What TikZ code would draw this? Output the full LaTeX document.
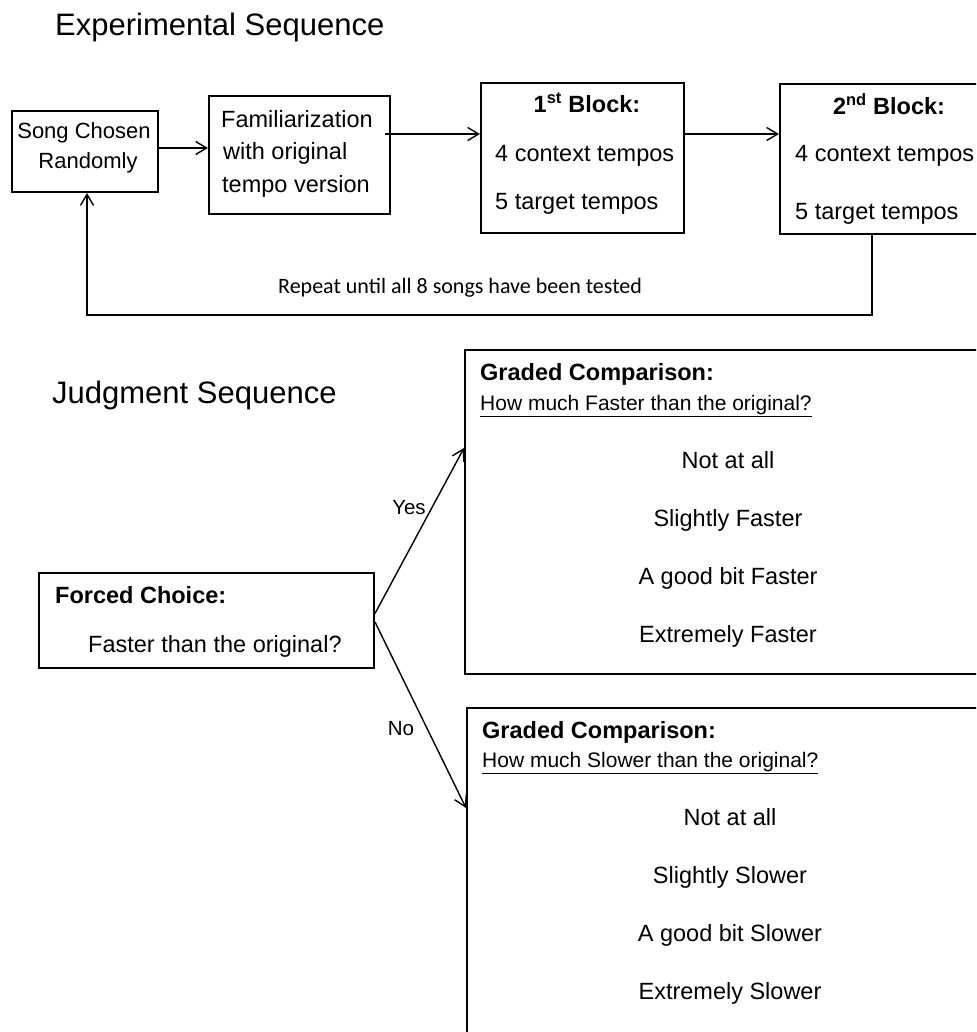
\documentclass[tikz,border=0pt]{standalone}
\usepackage{fontspec}
\setmainfont{Liberation Sans}
\newfontfamily\calfont{Carlito}
\usepackage{tikz}
\usetikzlibrary{arrows,arrows.meta,positioning}

\begin{document}
\begin{tikzpicture}[
      x=1pt, y=-1pt,%
      box/.style={draw, line width=2pt, inner sep=0pt, anchor=north west},%
      ttltxt/.style={inner sep=0pt, font=\fontsize{31}{36}\selectfont},%
      boxtxt/.style={inner sep=0pt, font=\fontsize{23.5}{28}\selectfont},%
      songtxt/.style={inner sep=0pt, font=\fontsize{22}{26}\selectfont},%
      subtxt/.style={inner sep=0pt, font=\fontsize{21}{25}\selectfont},%
      lbltxt/.style={inner sep=0pt, font=\fontsize{20.5}{24}\selectfont},%
      rpttxt/.style={inner sep=0pt, font=\calfont\fontsize{22}{26}\selectfont},%
      conn/.style={line width=1.4pt, -{Straight Barb[length=11pt,width=13pt,line width=1.4pt]}}%
    ]
    \useasboundingbox (0,0) rectangle (976,1032);
    \clip (0,0) rectangle (976,1032);

    %% Experimental sequence
    \node[ttltxt, anchor=base west] (exptitle) at (55,36) {Experimental Sequence};

    \node[box, minimum width=146pt, minimum height=81pt]  (song) at (11,110) {};
    \node[box, minimum width=181pt, minimum height=118pt] (fam)  at (208,95) {};
    \node[box, minimum width=203pt, minimum height=150pt] (blk1) at (480,82) {};
    \node[box, minimum width=260pt, minimum height=150pt] (blk2) at (779,83) {};

    \node[songtxt, anchor=base] (songA) at (84,139) {Song Chosen};
    \node[songtxt, anchor=base] (songB) at (88,169) {Randomly};

    \node[boxtxt, anchor=base west] (famA) at (221,128) {Familiarization};
    \node[boxtxt, anchor=base west] (famB) at (223,160) {with original};
    \node[boxtxt, anchor=base west] (famC) at (222,193) {tempo version};

    \node[boxtxt, anchor=base] (blk1A) at (587,113) {\textbf{1\textsuperscript{st} Block:}};
    \node[boxtxt, anchor=base west] (blk1B) at (495,162) {4 context tempos};
    \node[boxtxt, anchor=base west] (blk1C) at (495,210) {5 target tempos};

    \node[boxtxt, anchor=base] (blk2A) at (889,115) {\textbf{2\textsuperscript{nd} Block:}};
    \node[boxtxt, anchor=base west] (blk2B) at (795,162) {4 context tempos};
    \node[boxtxt, anchor=base west] (blk2C) at (795,220) {5 target tempos};

    \draw[conn] ([yshift=3.5pt]song.east) -- ([yshift=3.5pt]song.east -| fam.west);
    \draw[conn] ([xshift=-6pt,yshift=21pt]fam.east) -- ([yshift=21pt]fam.east -| blk1.west);
    \draw[conn] ([yshift=24pt]blk1.east) -- ([yshift=24pt]blk1.east -| blk2.west);

    %% Loop back to the start
    \draw[conn] ([xshift=93pt]blk2.south west) -- ++(0,80) -| ([xshift=76pt]song.south west);
    \node[rpttxt, anchor=base west] (repeat) at (278,293) {Repeat until all 8 songs have been tested};

    %% Judgment sequence
    \node[ttltxt, anchor=base west] (jdgtitle) at (52,403) {Judgment Sequence};

    \node[box, minimum width=335pt, minimum height=95pt]  (fc)     at (38,572) {};
    \node[box, minimum width=600pt, minimum height=324pt] (gradeF) at (464,349) {};
    \node[box, minimum width=600pt, minimum height=400pt] (gradeS) at (466,707) {};

    \node[boxtxt, anchor=base west] (fcA) at (55,603) {\textbf{Forced Choice:}};
    \node[boxtxt, anchor=base west] (fcB) at (88,652) {Faster than the original?};

    \draw[conn] ([yshift=7pt]fc.east) -- ([yshift=-99pt]gradeF.north west);
    \draw[conn] ([yshift=-1.5pt]fc.east) -- ([yshift=-101pt]gradeS.north west);
    \node[lbltxt, anchor=base] (yes) at (409,514) {Yes};
    \node[lbltxt, anchor=base] (no)  at (401,735) {No};

    %% Graded comparisons
    \node[boxtxt, anchor=base west] (gradeFA) at (480,380) {\textbf{Graded Comparison:}};
    \node[subtxt, anchor=base west] (gradeFB) at (480,410) {\underline{How much Faster than the original?}};
    \foreach \lvl [count=\i] in {Not at all, Slightly Faster, A good bit Faster, Extremely Faster}
      \node[boxtxt, anchor=base] (gradeF\i) at (728,{468+(\i-1)*58.3}) {\lvl};

    \node[boxtxt, anchor=base west] (gradeSA) at (482,738) {\textbf{Graded Comparison:}};
    \node[subtxt, anchor=base west] (gradeSB) at (482,767) {\underline{How much Slower than the original?}};
    \foreach \lvl [count=\i] in {Not at all, Slightly Slower, A good bit Slower, Extremely Slower}
      \node[boxtxt, anchor=base] (gradeS\i) at (730,{825+(\i-1)*58.3}) {\lvl};
\end{tikzpicture}
\end{document}
